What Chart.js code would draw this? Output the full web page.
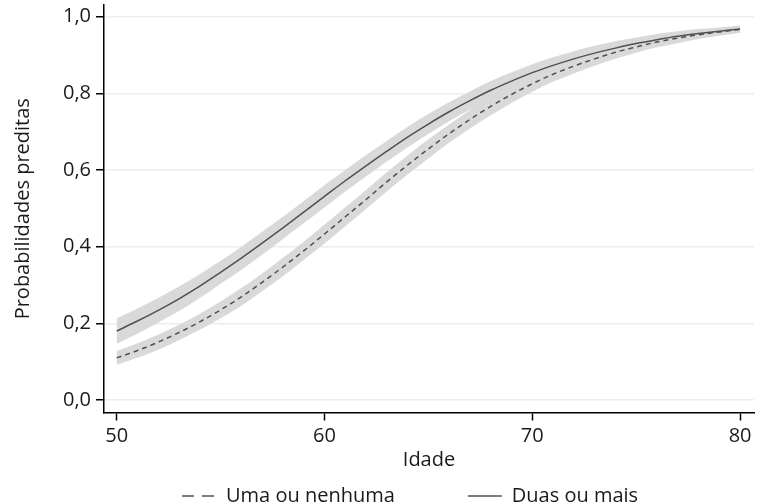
<!DOCTYPE html>
<html>
<head>
<meta charset="utf-8">
<script src="https://cdn.jsdelivr.net/npm/chart.js@4/dist/chart.umd.min.js"></script>
<style>
  html, body { margin: 0; padding: 0; background: #fff; }
  #wrap { position: relative; width: 758px; height: 503px; }
</style>
</head>
<body>
<div id="wrap"><canvas id="c" width="758" height="503"></canvas></div>
<script>
// Ages (x) and predicted probabilities
const ages = [50,51,52,53,54,55,56,57,58,59,60,61,62,63,64,65,66,67,68,69,70,71,72,73,74,75,76,77,78,79,80];
const umaOuNenhuma = [0.110,0.129,0.151,0.176,0.204,0.235,0.269,0.307,0.347,0.389,0.433,0.478,0.523,0.569,0.613,0.655,0.695,0.732,0.766,0.797,0.825,0.850,0.871,0.890,0.907,0.921,0.934,0.944,0.953,0.960,0.967];
const duasOuMais = [0.180,0.206,0.234,0.264,0.297,0.333,0.370,0.409,0.449,0.490,0.531,0.572,0.611,0.649,0.686,0.720,0.752,0.781,0.808,0.832,0.854,0.873,0.890,0.905,0.918,0.930,0.940,0.949,0.956,0.962,0.968];
// Confidence band half-widths
const umaCI = [0.018,0.019,0.020,0.020,0.021,0.022,0.023,0.023,0.024,0.024,0.025,0.025,0.025,0.025,0.025,0.025,0.024,0.024,0.023,0.022,0.021,0.020,0.019,0.018,0.017,0.015,0.014,0.013,0.011,0.010,0.009];
const duasCI = [0.033,0.033,0.032,0.032,0.031,0.030,0.030,0.030,0.029,0.029,0.029,0.028,0.028,0.027,0.027,0.026,0.025,0.024,0.024,0.023,0.022,0.021,0.020,0.019,0.018,0.016,0.015,0.013,0.012,0.010,0.009];
const xTicks = [50, 60, 70, 80];
const yTicks = [0, 0.2, 0.4, 0.6, 0.8, 1.0];
const seriesNames = ['Uma ou nenhuma', 'Duas ou mais'];
const xTitle = 'Idade';
const yTitle = 'Probabilidades preditas';

const pts = (vals, ci, sign) => ages.map((a, i) => ({ x: a, y: vals[i] + sign * (ci ? ci[i] : 0) }));

const FONT = "'Open Sans', sans-serif";
const TXT = '#1a1a1a';
const LINE = '#505050';
const BAND = '#d9d9d9';
const LEG_PAD = 73;

const bandStyle = { borderWidth: 0, pointRadius: 0, backgroundColor: BAND, cubicInterpolationMode: 'monotone' };

// place the legend row where the reference has it
const legendPlacer = {
  id: 'legendPlacer',
  afterLayout(chart) {
    const lg = chart.legend;
    if (!lg) return;
    lg.left = 182 - LEG_PAD;
    lg.right = 758;
    lg.top = 496 - 10 - LEG_PAD;
    lg.bottom = 503;
  }
};

const chart = new Chart(document.getElementById('c'), {
  type: 'line',
  data: {
    datasets: [
      { label: seriesNames[0], data: pts(umaOuNenhuma, null, 0), borderColor: LINE, borderWidth: 1.5, borderDash: [5, 4], pointRadius: 0, fill: false, cubicInterpolationMode: 'monotone' },
      { label: seriesNames[1], data: pts(duasOuMais, null, 0), borderColor: LINE, borderWidth: 1.5, pointRadius: 0, fill: false, cubicInterpolationMode: 'monotone' },
      Object.assign({ label: 'ci1u', data: pts(umaOuNenhuma, umaCI, 1), fill: '+1' }, bandStyle),
      Object.assign({ label: 'ci1l', data: pts(umaOuNenhuma, umaCI, -1), fill: false }, bandStyle),
      Object.assign({ label: 'ci2u', data: pts(duasOuMais, duasCI, 1), fill: '+1' }, bandStyle),
      Object.assign({ label: 'ci2l', data: pts(duasOuMais, duasCI, -1), fill: false }, bandStyle)
    ]
  },
  plugins: [legendPlacer],
  options: {
    responsive: false,
    animation: false,
    layout: { padding: { top: 5, right: 4, left: 0, bottom: 0 } },
    plugins: {
      filler: { drawTime: 'beforeDatasetsDraw' },
      tooltip: { enabled: false },
      legend: {
        position: 'bottom',
        align: 'start',
        maxHeight: 30,
        labels: {
          filter: (item) => item.datasetIndex < 2,
          usePointStyle: true,
          pointStyle: 'line',
          pointStyleWidth: 34,
          boxHeight: 20,
          padding: LEG_PAD,
          color: TXT,
          font: { family: FONT, size: 20 },
          generateLabels: (ch) => ch.data.datasets.map((d, i) => ({
            text: d.label, datasetIndex: i, pointStyle: 'line',
            strokeStyle: LINE, fillStyle: LINE, lineWidth: 1.5,
            lineDash: i === 0 ? [12, 8] : [], fontColor: TXT
          }))
        }
      }
    },
    scales: {
      x: {
        type: 'linear',
        min: 49.39, max: 80.67,
        afterBuildTicks: (s) => { s.ticks = xTicks.map(v => ({ value: v })); },
        afterFit: (s) => { s.height = 473 - 412.5; },
        ticks: { color: TXT, font: { family: FONT, size: 20 }, padding: 4, maxRotation: 0, callback: (v) => String(v) },
        grid: { drawOnChartArea: false, tickColor: '#000', tickLength: 8, tickWidth: 1.5 },
        border: { display: true, color: '#000', width: 1.5 },
        title: { display: true, text: xTitle, color: TXT, font: { family: FONT, size: 20 }, padding: { top: 0, bottom: 1 } }
      },
      y: {
        min: -0.0326, max: 1.0305,
        afterBuildTicks: (s) => { s.ticks = yTicks.map(v => ({ value: v })); },
        afterFit: (s) => { s.width = 104; s.paddingTop = 0; s.paddingBottom = 0; },
        ticks: { color: TXT, font: { family: FONT, size: 20 }, padding: 5, callback: (v) => v.toFixed(1).replace('.', ',') },
        grid: { color: '#e8eef1', lineWidth: 1.5, tickColor: '#000', tickLength: 8, tickWidth: 1.5 },
        border: { display: true, color: '#000', width: 1.5 },
        title: { display: true, text: yTitle, color: TXT, font: { family: FONT, size: 20 }, padding: { top: 11, bottom: 0 } }
      }
    }
  }
});
</script>
</body>
</html>
